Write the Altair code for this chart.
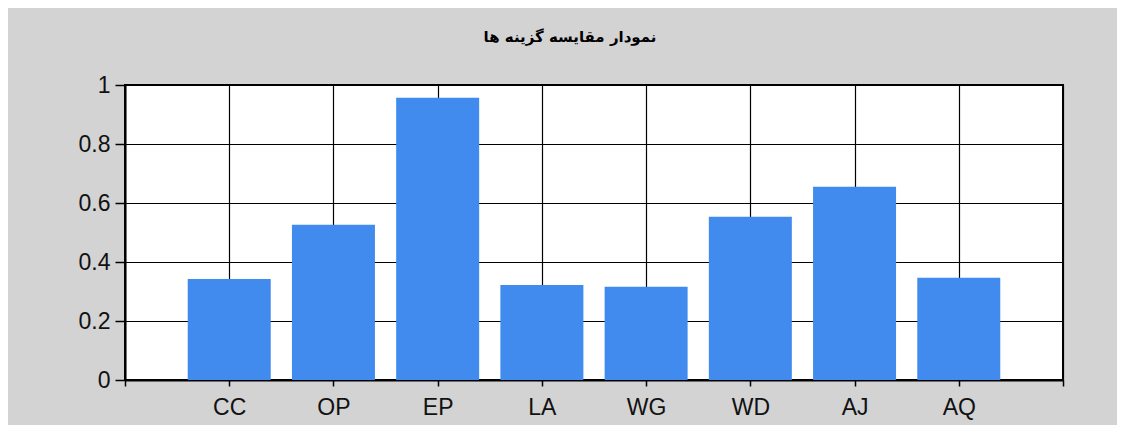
import altair as alt
import pandas as pd

categories = ["CC", "OP", "EP", "LA", "WG", "WD", "AJ", "AQ"]
values = [0.342, 0.526, 0.957, 0.322, 0.316, 0.553, 0.655, 0.347]
title_text = "نمودار مقایسه گزینه ها"
y_ticks = [0, 0.2, 0.4, 0.6, 0.8, 1]

df = pd.DataFrame({
    "pos": list(range(1, len(categories) + 1)),
    "cat": categories,
    "val": values,
})

slot_labels = [""] + categories + [""]
label_expr = "[" + ",".join("'%s'" % s for s in slot_labels) + "][datum.value]"

FONT = "Liberation Sans"

chart = alt.Chart(df).mark_bar(size=83, color="#418BEF").encode(
    x=alt.X("pos:Q",
            scale=alt.Scale(domain=[0, len(categories) + 1], nice=False, zero=True, padding=0),
            axis=alt.Axis(values=list(range(len(categories) + 2)), labelExpr=label_expr,
                          title=None, grid=True, gridColor="#000", gridOpacity=1, gridWidth=1.2,
                          domainColor="#000", domainWidth=2, tickColor="#000", tickSize=6,
                          tickWidth=1.5, labelFont=FONT, labelFontSize=23, labelColor="#111",
                          labelPadding=10)),
    y=alt.Y("val:Q",
            scale=alt.Scale(domain=[0, 1], nice=False, padding=0),
            axis=alt.Axis(values=y_ticks, format="~g", title=None, grid=True,
                          gridColor="#000", gridOpacity=1, gridWidth=1.2,
                          domainColor="#000", domainWidth=2, tickColor="#000", tickSize=10,
                          tickWidth=1.5, labelFont=FONT, labelFontSize=23, labelColor="#111",
                          labelPadding=5)),
).properties(
    width=938,
    height=295,
    title=alt.TitleParams(title_text, font="DejaVu Sans", fontSize=15, fontWeight="bold",
                          color="#000", anchor="middle", offset=29, dx=-24),
    autosize=alt.AutoSizeParams(type="none"),
    padding={"left": 117, "top": 77, "right": 54, "bottom": 45},
    background="#D3D3D3",
).configure_view(
    stroke="#000", strokeWidth=2, fill="#FFFFFF"
)

chart.save("out.html", embed_options={"renderer": "svg", "actions": False})
